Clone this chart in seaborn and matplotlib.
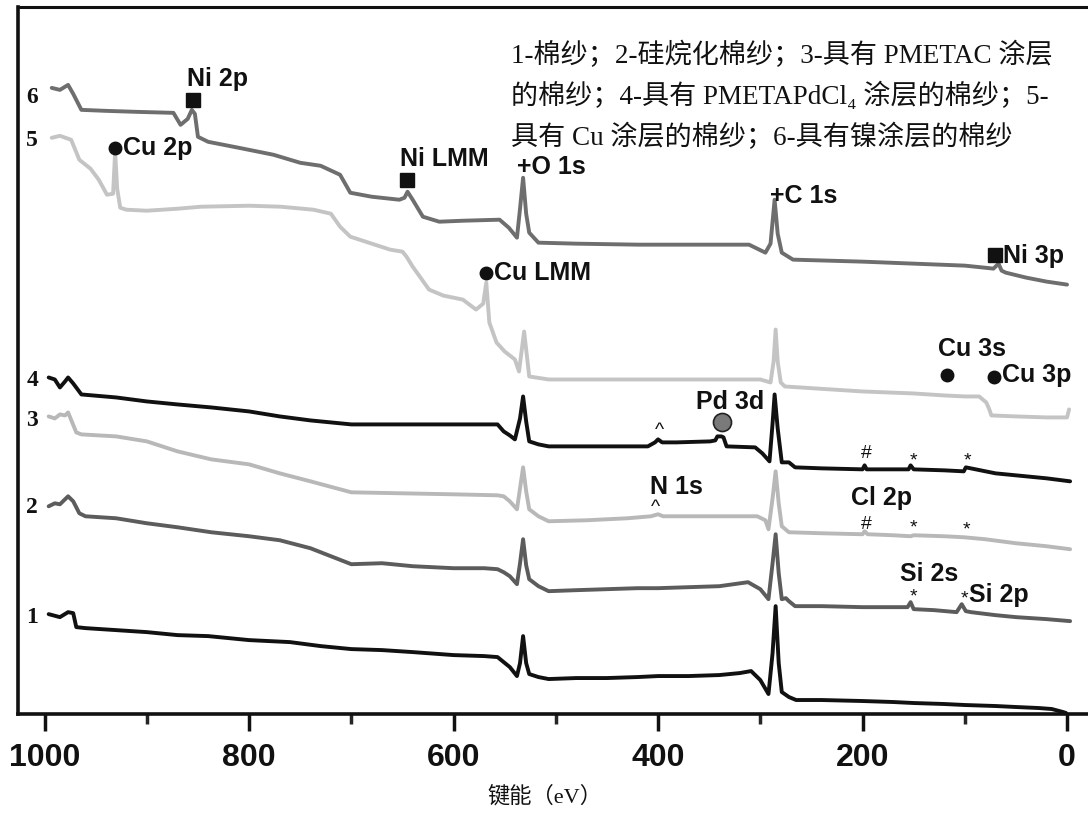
import matplotlib

matplotlib.use("Agg")
import matplotlib.pyplot as plt
import seaborn as sns
from matplotlib.ticker import MultipleLocator


# XPS survey spectra, intensity in arbitrary offset units
energy_1 = [996, 985, 977, 972, 969, 960, 930, 900, 870, 840, 800, 760, 730, 700, 670, 640, 600, 570,
            557, 551, 545, 538, 535, 532, 529, 526, 517, 507, 480, 450, 420, 400, 370, 340, 320, 309,
            300, 292, 288, 285, 282, 279, 272, 265, 240, 200, 170, 150, 120, 100, 70, 50, 28, 15, 4, 1]
intensity_1 = [99, 96, 101, 100, 86, 85, 83, 81, 78, 77, 73, 71, 67, 64, 63, 61, 58, 57,
               56, 51, 46, 37, 50, 77, 50, 39, 36, 34, 35, 35, 36, 37, 37, 38, 40, 42,
               33, 19, 60, 107, 50, 21, 16, 13, 13, 12, 11, 10, 9, 8, 7, 6, 5, 4, 1, 0]

energy_2 = [996, 990, 985, 980, 977, 972, 966, 960, 930, 900, 870, 837, 800, 770, 740, 700, 670, 640,
            600, 570, 557, 551, 545, 538, 535, 532, 529, 526, 517, 507, 480, 450, 420, 400, 370, 340,
            312, 300, 292, 288, 285, 282, 279, 275, 272, 266, 240, 200, 170, 156, 153, 150, 130, 108,
            103, 99, 94, 70, 50, 20, -3]
intensity_2 = [207, 210, 209, 214, 217, 212, 200, 197, 195, 190, 186, 181, 177, 173, 165, 149, 150, 147,
               145, 145, 144, 141, 137, 129, 150, 174, 148, 134, 127, 122, 123, 124, 125, 125, 126, 127,
               131, 124, 114, 150, 179, 140, 114, 115, 112, 107, 107, 106, 106, 106, 111, 104, 103, 101,
               109, 102, 101, 98, 96, 94, 92]

energy_3 = [996, 990, 985, 980, 977, 969, 964, 930, 900, 870, 837, 800, 770, 740, 700, 650, 600, 557,
            551, 545, 538, 535, 532, 529, 526, 517, 507, 470, 430, 407, 400, 395, 350, 310, 303, 295,
            292, 288, 285, 282, 279, 272, 240, 200, 198, 195, 170, 153, 150, 120, 101, 80, 50, 20, -3]
intensity_3 = [297, 295, 299, 298, 301, 281, 279, 277, 272, 262, 254, 249, 240, 232, 221, 220, 219, 218,
               217, 212, 204, 225, 246, 222, 204, 197, 192, 193, 195, 197, 199, 197, 197, 197, 197, 193,
               184, 215, 242, 210, 187, 181, 180, 179, 182, 179, 178, 177, 178, 177, 176, 174, 170, 167, 164]

energy_4 = [996, 990, 985, 980, 977, 972, 964, 930, 900, 870, 837, 800, 770, 740, 700, 650, 600, 557,
            551, 545, 540, 535, 532, 529, 526, 517, 507, 450, 410, 403, 400, 396, 382, 349, 344, 342,
            338, 336, 333, 305, 298, 291, 288, 286, 283, 279, 272, 266, 240, 200, 198, 196, 170, 155,
            153, 150, 120, 101, 99, 70, 40, 20, -3]
intensity_4 = [336, 334, 326, 332, 336, 330, 319, 316, 312, 309, 306, 302, 297, 293, 289, 289, 289, 289,
               282, 278, 274, 295, 317, 292, 272, 269, 267, 267, 267, 271, 274, 271, 271, 272, 273, 277,
               277, 276, 267, 266, 260, 252, 290, 319, 285, 251, 251, 246, 245, 244, 248, 244, 244, 244,
               248, 244, 243, 242, 246, 240, 237, 235, 232]

energy_5 = [993, 985, 974, 966, 955, 947, 939, 933, 931, 929, 926, 920, 900, 870, 847, 800, 769, 737,
            720, 711, 701, 680, 662, 650, 646, 640, 633, 624, 610, 591, 578, 571, 568, 565, 558, 550,
            540, 536, 531, 526, 507, 450, 400, 350, 300, 290, 287, 285, 283, 280, 276, 200, 150, 120,
            100, 86, 79, 76, 74, 50, 20, 0, -2]
intensity_5 = [576, 578, 574, 554, 545, 534, 519, 520, 562, 525, 506, 504, 503, 505, 507, 508, 507, 504,
               500, 487, 477, 470, 464, 462, 457, 447, 437, 424, 418, 414, 404, 410, 431, 391, 371, 362,
               354, 342, 382, 337, 334, 334, 334, 334, 334, 331, 352, 384, 352, 331, 327, 322, 320, 318,
               317, 317, 311, 304, 298, 297, 296, 296, 304]

energy_6 = [993, 985, 977, 972, 964, 940, 910, 874, 867, 860, 856, 853, 850, 840, 810, 776, 750, 730,
            711, 701, 680, 653, 648, 645, 640, 630, 614, 590, 555, 546, 538, 535, 532, 529, 526, 517,
            480, 419, 350, 311, 295, 290, 286, 283, 279, 268, 200, 150, 100, 81, 72, 67, 64, 60, 40, 20, 0]
intensity_6 = [626, 624, 629, 620, 604, 603, 602, 601, 589, 595, 604, 600, 577, 572, 566, 559, 551, 548,
               539, 521, 517, 514, 516, 522, 514, 497, 492, 493, 494, 486, 476, 505, 536, 500, 481, 471,
               470, 469, 469, 469, 461, 470, 514, 480, 461, 454, 452, 450, 448, 446, 445, 450, 443, 441,
               436, 432, 429]

curve_colors = ["#111111", "#5c5c5c", "#b8b8b8", "#111111", "#c4c4c4", "#6e6e6e"]
curve_names = ["1", "2", "3", "4", "5", "6"]
curve_label_y = [97, 207, 294, 334, 574, 617]

# peak labels: (text, energy, intensity, horizontal alignment)
peak_texts = [
    ("Ni 2p", 831, 636, "center"),
    ("Cu 2p", 923, 567, "left"),
    ("Ni LMM", 609, 556, "center"),
    ("+O 1s", 538, 548, "left"),
    ("+C 1s", 291, 519, "left"),
    ("Ni 3p", 63, 459, "left"),
    ("Cu LMM", 560, 442, "left"),
    ("Cu 3s", 93, 366, "center"),
    ("Cu 3p", 64, 339, "left"),
    ("Pd 3d", 330, 312, "center"),
    ("N 1s", 382, 227, "center"),
    ("Cl 2p", 181, 216, "center"),
    ("Si 2s", 135, 140, "center"),
    ("Si 2p", 67, 119, "center"),
]
square_marks = [(855, 614), (646, 534), (70, 459)]
circle_marks = [(931, 566), (568, 441), (117, 338), (71, 336)]
pd_mark = (337, 291)
small_marks = [
    ("^", 399, 284), ("^", 403, 207),
    ("#", 196, 261), ("*", 150, 253), ("*", 97, 253),
    ("#", 196, 190), ("*", 150, 186), ("*", 98, 184),
    ("*", 150, 117), ("*", 100, 115),
]

legend_lines = [
    "1-棉纱；2-硅烷化棉纱；3-具有 PMETAC 涂层",
    "的棉纱；4-具有 PMETAPdCl₄ 涂层的棉纱；5-",
    "具有 Cu 涂层的棉纱；6-具有镍涂层的棉纱",
]

W, H = 1088, 820
SERIF_CJK = ["Liberation Serif", "Noto Sans CJK SC", "DejaVu Serif"]


def configure_plot_style() -> None:
    sns.set_style("white")
    plt.rcParams.update(
        {
            "font.family": ["Liberation Sans", "Noto Sans CJK SC"],
            "axes.edgecolor": "#111111",
        }
    )


def main() -> None:
    configure_plot_style()
    fig = plt.figure(figsize=(W / 100, H / 100), dpi=100)
    ax = fig.add_axes([18 / W, 1 - 715 / H, 1 - 18 / W, (715 - 8) / H])

    series = [
        (energy_1, intensity_1), (energy_2, intensity_2), (energy_3, intensity_3),
        (energy_4, intensity_4), (energy_5, intensity_5), (energy_6, intensity_6),
    ]
    for (xs, ys), color in zip(series, curve_colors):
        sns.lineplot(x=xs, y=ys, ax=ax, color=color, lw=2.8, sort=False, estimator=None)

    for name, y in zip(curve_names, curve_label_y):
        ax.text(1012, y, name, ha="center", va="center", fontsize=17, fontweight="bold",
                family=["Liberation Serif"], color="#111111")

    for text, x, y, ha in peak_texts:
        ax.text(x, y, text, ha=ha, va="center", fontsize=18, fontweight="bold", color="#111111")

    ax.plot([p[0] for p in square_marks], [p[1] for p in square_marks], "s",
            color="#111111", markersize=10, ls="none")
    ax.plot([p[0] for p in circle_marks], [p[1] for p in circle_marks], "o",
            color="#111111", markersize=9, ls="none")
    ax.plot([pd_mark[0]], [pd_mark[1]], "o", color="#7a7a7a", markeredgecolor="#222222",
            markeredgewidth=1.2, markersize=13)
    for sym, x, y in small_marks:
        ax.text(x, y, sym, ha="center", va="center", fontsize=14, color="#111111")

    ax.set_xlim(1026, -20.5)
    ax.set_ylim(-1, 707)
    ax.set_yticks([])
    ax.xaxis.set_major_locator(MultipleLocator(200))
    ax.xaxis.set_minor_locator(MultipleLocator(100))
    ax.tick_params(axis="x", which="major", direction="out", length=12, width=2.5,
                   bottom=True, pad=8, labelsize=23, colors="#111111")
    ax.tick_params(axis="x", which="minor", direction="out", length=7, width=2.5, bottom=True)
    for label in ax.get_xticklabels():
        label.set_fontweight("bold")
    ax.spines["right"].set_visible(False)
    ax.spines["left"].set_linewidth(2.6)
    ax.spines["bottom"].set_linewidth(2.6)
    ax.spines["top"].set_linewidth(2.2)

    for i, line in enumerate(legend_lines):
        fig.text(511 / W, 1 - (55 + 41 * i) / H, line, ha="left", va="center", fontsize=19.5,
                 family=SERIF_CJK, color="#111111")

    fig.text(545 / W, 1 - 797 / H, "键能（eV）", ha="center", va="center", fontsize=16,
             family=SERIF_CJK, color="#111111")

    fig.savefig("out.png", dpi=100)
    plt.close(fig)


if __name__ == "__main__":
    main()
